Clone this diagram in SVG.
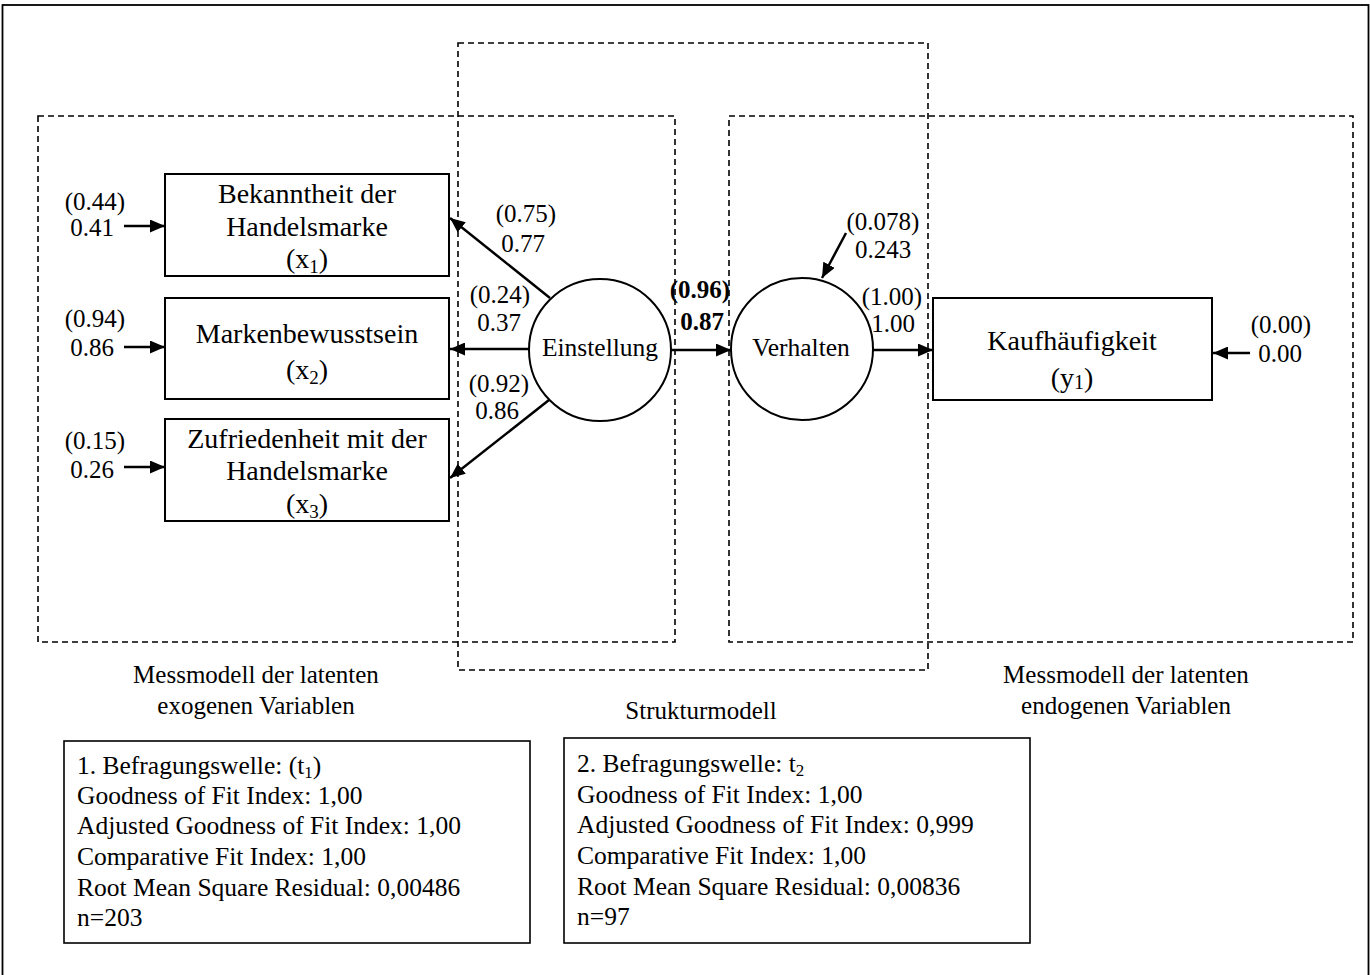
<svg xmlns="http://www.w3.org/2000/svg" width="1370" height="975" viewBox="0 0 1370 975">
<style>
text{font-family:"Liberation Serif","Times New Roman",serif;fill:#000}
.bx{font-size:28px;text-anchor:middle}
.lb{font-size:25px;text-anchor:middle}
.ci{font-size:25.5px;text-anchor:middle}
.st{font-size:25.5px}
.bold{font-weight:bold}
.node{fill:#fff;stroke:#000;stroke-width:2}
.dash{fill:none;stroke:#000;stroke-width:1.6;stroke-dasharray:6 4}
.arr{fill:none;stroke:#000;stroke-width:2.5;marker-end:url(#ah)}
</style>
<defs>
<marker id="ah" markerUnits="userSpaceOnUse" markerWidth="16" markerHeight="13" refX="15" refY="6.5" orient="auto">
<path d="M0,0 L15,6.5 L0,13 z" fill="#000"/>
</marker>
</defs>
<rect x="0" y="0" width="1370" height="975" fill="#fff"/>
<rect x="2.5" y="5" width="1366" height="1000" fill="none" stroke="#000" stroke-width="1.8"/>

<g id="regions">
<rect class="dash" x="38" y="116" width="637" height="526"/>
<rect class="dash" x="458" y="43" width="470" height="627"/>
<rect class="dash" x="729" y="116" width="624" height="526"/>
</g>

<g id="node-x1">
<rect class="node" x="165" y="174" width="284" height="102"/>
<text class="bx" x="307" y="203">Bekanntheit der</text>
<text class="bx" x="307" y="236">Handelsmarke</text>
<text class="bx" x="307" y="268">(x<tspan font-size="19" dy="5">1</tspan><tspan dy="-5">)</tspan></text>
</g>
<g id="node-x2">
<rect class="node" x="165" y="298" width="284" height="101"/>
<text class="bx" x="307" y="343">Markenbewusstsein</text>
<text class="bx" x="307" y="379">(x<tspan font-size="19" dy="5">2</tspan><tspan dy="-5">)</tspan></text>
</g>
<g id="node-x3">
<rect class="node" x="165" y="419" width="284" height="102"/>
<text class="bx" x="307" y="448">Zufriedenheit mit der</text>
<text class="bx" x="307" y="480">Handelsmarke</text>
<text class="bx" x="307" y="513">(x<tspan font-size="19" dy="5">3</tspan><tspan dy="-5">)</tspan></text>
</g>
<g id="node-y1">
<rect class="node" x="933" y="298" width="279" height="102"/>
<text class="bx" x="1072" y="350">Kaufhäufigkeit</text>
<text class="bx" x="1072" y="387">(y<tspan font-size="20" dy="2">1</tspan><tspan dy="-2">)</tspan></text>
</g>
<g id="node-einstellung">
<circle class="node" cx="600" cy="350" r="71"/>
<text class="ci" x="600" y="356">Einstellung</text>
</g>
<g id="node-verhalten">
<circle class="node" cx="802" cy="349" r="71"/>
<text class="ci" x="801" y="356">Verhalten</text>
</g>

<g id="connectors">
<path class="arr" d="M550,298 L450,218"/>
<path class="arr" d="M529,349 L450,349"/>
<path class="arr" d="M549,400 L450,478"/>
<path class="arr" d="M671,350 L731,350"/>
<path class="arr" d="M873,350 L933,350"/>
<path class="arr" d="M846,233 L822,278"/>
<path class="arr" d="M124,226 L165,226"/>
<path class="arr" d="M124,347 L165,347"/>
<path class="arr" d="M124,467 L165,467"/>
<path class="arr" d="M1250,353 L1213,353"/>
</g>

<g id="labels">
<text class="lb" x="95" y="210">(0.44)</text>
<text class="lb" x="92" y="236">0.41</text>
<text class="lb" x="95" y="327">(0.94)</text>
<text class="lb" x="92" y="356">0.86</text>
<text class="lb" x="95" y="449">(0.15)</text>
<text class="lb" x="92" y="478">0.26</text>
<text class="lb" x="526" y="222">(0.75)</text>
<text class="lb" x="523" y="252">0.77</text>
<text class="lb" x="500" y="303">(0.24)</text>
<text class="lb" x="499" y="331">0.37</text>
<text class="lb" x="499" y="392">(0.92)</text>
<text class="lb" x="497" y="419">0.86</text>
<text class="lb bold" x="700" y="298">(0.96)</text>
<text class="lb bold" x="702" y="330">0.87</text>
<text class="lb" x="883" y="230">(0.078)</text>
<text class="lb" x="883" y="258">0.243</text>
<text class="lb" x="892" y="305">(1.00)</text>
<text class="lb" x="893" y="332">1.00</text>
<text class="lb" x="1281" y="333">(0.00)</text>
<text class="lb" x="1280" y="362">0.00</text>
<text class="lb" x="256" y="683">Messmodell der latenten</text>
<text class="lb" x="256" y="714">exogenen Variablen</text>
<text class="lb" x="701" y="719">Strukturmodell</text>
<text class="lb" x="1126" y="683">Messmodell der latenten</text>
<text class="lb" x="1126" y="714">endogenen Variablen</text>
</g>

<g id="fit-t1">
<rect x="64" y="741" width="466" height="202" fill="#fff" stroke="#000" stroke-width="1.6"/>
<text class="st" x="77" y="774">1. Befragungswelle: (t<tspan font-size="17" dy="4">1</tspan><tspan dy="-4">)</tspan></text>
<text class="st" x="77" y="804">Goodness of Fit Index: 1,00</text>
<text class="st" x="77" y="834">Adjusted Goodness of Fit Index: 1,00</text>
<text class="st" x="77" y="865">Comparative Fit Index: 1,00</text>
<text class="st" x="77" y="896">Root Mean Square Residual: 0,00486</text>
<text class="st" x="77" y="926">n=203</text>
</g>
<g id="fit-t2">
<rect x="564" y="738" width="466" height="205" fill="#fff" stroke="#000" stroke-width="1.6"/>
<text class="st" x="577" y="772">2. Befragungswelle: t<tspan font-size="17" dy="4">2</tspan></text>
<text class="st" x="577" y="803">Goodness of Fit Index: 1,00</text>
<text class="st" x="577" y="833">Adjusted Goodness of Fit Index: 0,999</text>
<text class="st" x="577" y="864">Comparative Fit Index: 1,00</text>
<text class="st" x="577" y="895">Root Mean Square Residual: 0,00836</text>
<text class="st" x="577" y="925">n=97</text>
</g>
</svg>
